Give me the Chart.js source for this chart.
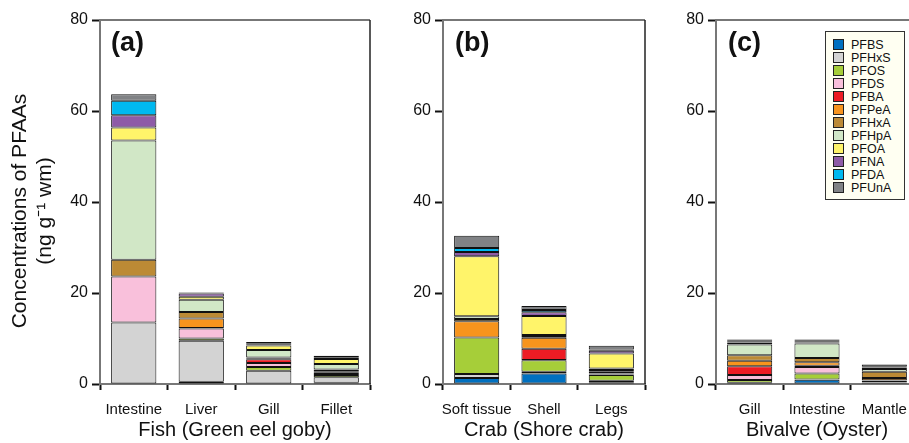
<!DOCTYPE html>
<html>
<head>
<meta charset="utf-8">
<script src="https://cdn.jsdelivr.net/npm/chart.js@4.4.1/dist/chart.umd.min.js"></script>
<style>
  html, body { margin:0; padding:0; width:909px; height:443px; overflow:hidden; background:#fff; }
  canvas { position:absolute; top:0; }
  .letter { position:absolute; font-family:"Liberation Sans", Arial, sans-serif; font-weight:bold; font-size:27px; color:#111; line-height:1; }
  #legend { position:absolute; left:825px; top:31px; width:78px; height:167px; background:#FFFFF2; border:1px solid #333; font-family:"Liberation Sans", Arial, sans-serif; font-size:12.5px; color:#111; }
  .li { position:absolute; left:7px; height:13px; line-height:13px; white-space:nowrap; }
  .sw { display:inline-block; width:9px; height:9px; border:1px solid #222; vertical-align:middle; margin-right:7px; margin-top:-2px; }
</style>
</head>
<body>
<canvas id="ca" width="380" height="443" style="left:0px;width:380px;height:443px"></canvas>
<canvas id="cb" width="262" height="443" style="left:393px;width:262px;height:443px"></canvas>
<canvas id="cc" width="262" height="443" style="left:666px;width:262px;height:443px"></canvas>
<div class="letter" style="left:111px;top:29px">(a)</div>
<div class="letter" style="left:455px;top:29px">(b)</div>
<div class="letter" style="left:728px;top:29px">(c)</div>
<div id="legend"></div>
<script>
const seriesNames = ['PFBS','PFHxS','PFOS','PFDS','PFBA','PFPeA','PFHxA','PFHpA','PFOA','PFNA','PFDA','PFUnA'];
const seriesColors = ['#0070C0','#D3D3D3','#A6CE39','#F9C0DB','#ED1C24','#F7941D','#BC8A35','#D1E7C6','#FFF46A','#8E5BA7','#00B9F0','#808285'];

const yTicks = [0, 20, 40, 60, 80];
const yTitleLines = ['Concentrations of PFAAs', '(ng g\u207B\u00B9 wm)'];

const fishCategories = ['Intestine','Liver','Gill','Fillet'];
const fishPFBS  = [0,    0.5, 0.1,  0.3];
const fishPFHxS = [13.5, 9.0, 2.8,  1.2];
const fishPFOS  = [0,    0.5, 0.85, 0.5];
const fishPFDS  = [10.1, 2.2, 0.85, 0.2];
const fishPFBA  = [0,    0.1, 0.85, 0.3];
const fishPFPeA = [0,    2.1, 0.2,  0.3];
const fishPFHxA = [3.7,  1.4, 0.2,  0.4];
const fishPFHpA = [26.2, 2.7, 1.6,  1.2];
const fishPFOA  = [2.9,  0.7, 1.0,  1.1];
const fishPFNA  = [2.65, 0.7, 0.2,  0.2];
const fishPFDA  = [3.2,  0.1, 0.3,  0.2];
const fishPFUnA = [1.45, 0.1, 0.3,  0.3];

const crabCategories = ['Soft tissue','Shell','Legs'];
const crabPFBS  = [1.3,  2.3,  0.4];
const crabPFHxS = [0.9,  0.4,  0.3];
const crabPFOS  = [8.0,  2.5,  1.3];
const crabPFDS  = [0,    0.05, 0.1];
const crabPFBA  = [0,    2.5,  0.2];
const crabPFPeA = [3.6,  2.4,  0.4];
const crabPFHxA = [0.5,  0.4,  0.4];
const crabPFHpA = [0.6,  0.2,  0.3];
const crabPFOA  = [13.2, 4.2,  3.3];
const crabPFNA  = [0.9,  0.8,  0.6];
const crabPFDA  = [0.9,  0.5,  0.3];
const crabPFUnA = [2.7,  0.9,  0.8];

const bivalveCategories = ['Gill','Intestine','Mantle'];
const bivPFBS  = [0.1, 0.95, 0.2];
const bivPFHxS = [0.2, 0.05, 0.1];
const bivPFOS  = [0.6, 1.3,  0.1];
const bivPFDS  = [1.1, 1.45, 0.3];
const bivPFBA  = [1.9, 0.25, 0.1];
const bivPFPeA = [1.2, 0.8,  0.5];
const bivPFHxA = [1.2, 0.9,  1.4];
const bivPFHpA = [2.4, 3.2,  0.6];
const bivPFOA  = [0.4, 0.2,  0.2];
const bivPFNA  = [0.2, 0.2,  0.1];
const bivPFDA  = [0.2, 0.2,  0.2];
const bivPFUnA = [0.3, 0.3,  0.5];

const fishSeries = [fishPFBS,fishPFHxS,fishPFOS,fishPFDS,fishPFBA,fishPFPeA,fishPFHxA,fishPFHpA,fishPFOA,fishPFNA,fishPFDA,fishPFUnA];
const crabSeries = [crabPFBS,crabPFHxS,crabPFOS,crabPFDS,crabPFBA,crabPFPeA,crabPFHxA,crabPFHpA,crabPFOA,crabPFNA,crabPFDA,crabPFUnA];
const bivSeries  = [bivPFBS,bivPFHxS,bivPFOS,bivPFDS,bivPFBA,bivPFPeA,bivPFHxA,bivPFHpA,bivPFOA,bivPFNA,bivPFDA,bivPFUnA];

Chart.defaults.font.family = '"Liberation Sans", Arial, sans-serif';
Chart.defaults.color = '#111';

const framePlugin = {
  id: 'frame',
  afterDraw(chart) {
    const {ctx, chartArea: a} = chart;
    ctx.save();
    ctx.strokeStyle = '#777';
    ctx.lineWidth = 2;
    ctx.beginPath();
    ctx.moveTo(a.left, a.top);
    ctx.lineTo(a.right, a.top);
    ctx.stroke();
    ctx.strokeStyle = '#222';
    ctx.lineWidth = 1.5;
    ctx.beginPath();
    ctx.moveTo(a.right, a.top);
    ctx.lineTo(a.right, a.bottom);
    ctx.stroke();
    ctx.restore();
  }
};

const yTitlePlugin = {
  id: 'ytitle',
  afterDraw(chart) {
    const {ctx, chartArea: a} = chart;
    const cy = (a.top + a.bottom) / 2 + 9;
    ctx.save();
    ctx.fillStyle = '#111';
    ctx.font = '21px "Liberation Sans", Arial, sans-serif';
    ctx.textAlign = 'center';
    ctx.textBaseline = 'middle';
    [20, 45].forEach((x, i) => {
      ctx.save();
      ctx.translate(x, cy);
      ctx.rotate(-Math.PI / 2);
      ctx.fillText(yTitleLines[i], 0, 0);
      ctx.restore();
    });
    ctx.restore();
  }
};

function makeChart(id, categories, series, xTitle, yAxisWidth, withYTitle) {
  const datasets = series.map((vals, i) => ({
    label: seriesNames[i],
    data: vals,
    backgroundColor: seriesColors[i],
    borderColor: '#111',
    borderWidth: 1,
    borderSkipped: false,
    barPercentage: 0.67,
    categoryPercentage: 1.0
  }));
  return new Chart(document.getElementById(id), {
    type: 'bar',
    data: { labels: categories, datasets },
    plugins: withYTitle ? [framePlugin, yTitlePlugin] : [framePlugin],
    options: {
      responsive: false,
      animation: false,
      devicePixelRatio: 1,
      layout: { padding: { top: 20, right: 10, bottom: 0, left: 0 } },
      plugins: { legend: { display: false }, tooltip: { enabled: false } },
      scales: {
        x: {
          stacked: true,
          grid: { display: true, drawOnChartArea: false, drawTicks: true, tickLength: 6, tickWidth: 2, tickColor: '#111', offset: true },
          border: { display: true, color: '#777', width: 2 },
          ticks: { font: { size: 15 }, padding: 11, color: '#111', maxRotation: 0, autoSkip: false },
          title: { display: true, text: xTitle, font: { size: 20 }, color: '#111', padding: { top: 0, bottom: 1 } },
          afterFit(scale) { scale.height = 59; }
        },
        y: {
          stacked: true,
          min: 0, max: 80,
          afterBuildTicks(scale) { scale.ticks = yTicks.map(v => ({ value: v })); },
          grid: { display: true, drawOnChartArea: false, drawTicks: true, tickLength: 8, tickWidth: 2, tickColor: '#111' },
          border: { display: true, color: '#777', width: 2 },
          ticks: { font: { size: 16 }, padding: 4, color: '#111' },
          title: { display: false },
          afterFit(scale) { scale.width = yAxisWidth; }
        }
      }
    }
  });
}

makeChart('ca', fishCategories, fishSeries, 'Fish (Green eel goby)', 100, true);
makeChart('cb', crabCategories, crabSeries, 'Crab (Shore crab)', 50, false);
makeChart('cc', bivalveCategories, bivSeries, 'Bivalve (Oyster)', 50, false);

const legend = document.getElementById('legend');
seriesNames.forEach((name, i) => {
  const d = document.createElement('div');
  d.className = 'li';
  d.style.top = (7 + 13 * i) + 'px';
  const s = document.createElement('span');
  s.className = 'sw';
  s.style.background = seriesColors[i];
  d.appendChild(s);
  d.appendChild(document.createTextNode(name));
  legend.appendChild(d);
});
</script>
</body>
</html>
